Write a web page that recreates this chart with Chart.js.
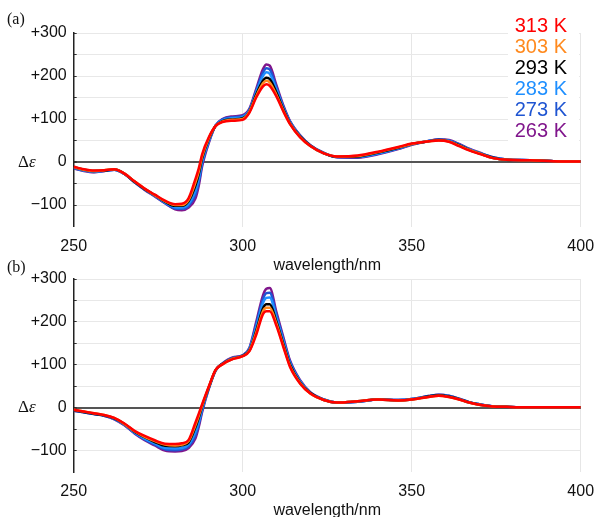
<!DOCTYPE html>
<html>
<head>
<meta charset="utf-8">
<script src="https://cdn.jsdelivr.net/npm/chart.js@4.4.1/dist/chart.umd.min.js"></script>
<style>
  body { margin: 0; width: 595px; height: 517px; overflow: hidden; background: #fff; position: relative; }
  canvas { position: absolute; left: 0; }
  .tag { position: absolute; font-family: "Liberation Serif", serif; font-size: 16px; color: #111; line-height: 18px; }
  .de { position: absolute; font-family: "Liberation Serif", serif; font-size: 17px; color: #111; line-height: 20px; }
  #legend { position: absolute; left: 508px; top: 14.5px; width: 59px; padding-right: 12px; background: #fff;
            text-align: right; font-family: "Liberation Sans", Arial, sans-serif; font-size: 20px; line-height: 21px; }
</style>
</head>
<body>
<canvas id="chartA" width="595" height="275" style="top:0"></canvas>
<canvas id="chartB" width="595" height="275" style="top:245px"></canvas>
<div class="tag" style="left:7px;top:10px">(a)</div>
<div class="tag" style="left:7px;top:258px">(b)</div>
<div class="de" style="left:18px;top:152px">Δ<i>ε</i></div>
<div class="de" style="left:18px;top:397px">Δ<i>ε</i></div>
<div id="legend"></div>
<script>
// wavelength grid (nm)
const wavelengths = [250,253,256,259,262,265,268,271,274,277,280,282,284,286,287,288,290,292,294,297,
  300,302,304,306,307,308,310,312,314,317,320,324,328,334,340,346,350,355,358,361,364,367,370,374,378,385,392,400];

const temps = ["313 K", "303 K", "293 K", "283 K", "273 K", "263 K"];
const colors = ["#ff0000", "#ff8a1e", "#000000", "#1e8fff", "#1f55d2", "#80168c"];

// panel (a)
const a313 = [-11,-17,-20,-19,-17,-27,-45,-62,-76,-90,-98,-97,-84,-40,-15,18,58,84,93,96,98,115,150,176,181,177,152,118,88,57,37,20,13,15,24,35,43,48,50,47,37,27,19,9,5,4,2,1];
const a303 = [-12,-18,-21,-19,-17,-27,-45,-62,-77,-91,-100,-100,-88,-48,-22,13,56,84,94,98,100,117,153,183,189,185,156,120,89,58,37,20,13,14,23,34,42,48,50,48,38,28,20,9,5,4,2,1];
const a293 = [-12,-18,-21,-20,-17,-27,-46,-63,-77,-92,-102,-102,-91,-55,-28,9,54,84,95,99,102,118,157,189,196,193,161,123,90,59,38,20,12,13,22,33,42,48,51,48,39,28,20,10,5,4,2,1];
const a283 = [-13,-19,-22,-20,-18,-28,-46,-64,-78,-94,-105,-106,-97,-67,-39,1,50,85,97,102,105,120,162,200,209,205,168,126,92,60,38,21,12,12,20,32,41,49,52,49,40,29,21,10,6,4,2,1];
const a273 = [-14,-20,-23,-21,-18,-28,-47,-64,-79,-95,-108,-109,-102,-76,-47,-4,48,85,99,104,107,122,166,208,218,215,173,129,94,61,39,21,11,11,19,31,41,49,52,50,41,30,21,11,6,4,2,1];
const a263 = [-15,-21,-24,-21,-18,-28,-47,-65,-80,-96,-110,-112,-106,-85,-55,-10,45,85,100,106,109,124,170,216,227,224,178,132,95,62,39,21,11,10,18,30,40,49,53,51,42,31,22,11,6,4,2,1];

// panel (b)
const b313 = [-5,-9,-13,-17,-24,-37,-54,-66,-76,-84,-85,-83,-75,-35,-14,8,50,88,101,113,120,132,170,218,225,225,190,142,95,56,33,18,12,15,19,17,19,25,28,25,19,12,7,3,2,1,1,1];
const b303 = [-5,-9,-13,-17,-24,-38,-55,-68,-78,-86,-88,-86,-78,-41,-19,5,49,88,101,114,120,133,175,225,233,233,195,145,97,57,33,18,12,15,19,17,19,25,28,25,19,12,7,3,2,1,1,1];
const b293 = [-6,-10,-14,-18,-25,-38,-56,-69,-80,-89,-90,-88,-81,-46,-23,3,48,88,102,114,121,134,179,231,241,241,200,149,100,58,34,18,12,15,19,17,19,26,29,26,20,12,7,3,2,1,1,1];
const b283 = [-6,-10,-14,-18,-26,-39,-58,-72,-83,-94,-95,-94,-86,-57,-33,-3,47,87,102,115,121,137,188,244,256,257,209,156,104,61,35,19,12,14,19,18,20,26,29,27,20,13,8,3,2,1,1,1];
const b273 = [-7,-11,-15,-19,-26,-40,-59,-74,-86,-97,-99,-97,-90,-65,-39,-6,46,87,103,116,122,138,194,253,267,268,216,160,107,62,35,19,12,14,19,18,20,27,30,27,21,13,8,3,2,1,1,1];
const b263 = [-7,-11,-15,-19,-27,-41,-60,-76,-88,-100,-102,-101,-94,-72,-45,-10,45,87,103,117,122,140,200,262,277,279,222,165,110,64,36,19,12,14,19,18,20,27,30,28,21,13,8,3,2,1,1,1];

const yTicks = [-100, 0, 100, 200, 300];

function tickText(v) {
  if (!yTicks.includes(v)) return "";
  if (v > 0) return "+" + v;
  if (v < 0) return "\u2212" + Math.abs(v);
  return "0";
}

function makeChart(id, series, topPad, axisH) {
  const datasets = series.map((vals, i) => ({
    label: temps[i],
    data: vals.map((v, j) => ({ x: wavelengths[j], y: v })),
    borderColor: colors[i],
    borderWidth: 2.5,
    pointRadius: 0,
    fill: false,
    cubicInterpolationMode: "monotone"
  }));

  new Chart(document.getElementById(id), {
    type: "line",
    data: { datasets },
    options: {
      responsive: false,
      animation: false,
      layout: { padding: { top: topPad, right: 14.3, bottom: 0, left: 0 } },
      plugins: { legend: { display: false }, tooltip: { enabled: false } },
      scales: {
        x: {
          type: "linear",
          min: 250, max: 400,
          afterFit: s => { s.height = axisH; s.paddingLeft = 0; s.paddingRight = 0; },
          ticks: { stepSize: 50, padding: 10, color: "#111", autoSkip: false,
                   font: { family: "Liberation Sans", size: 16 } },
          grid: { color: "#e6e6e6", drawTicks: false },
          border: { display: false },
          title: { display: true, text: "wavelength/nm", color: "#111", padding: 0,
                   font: { family: "Liberation Sans", size: 16 } }
        },
        y: {
          min: -150, max: 300,
          afterFit: s => { s.width = 73.7; s.paddingTop = 0; s.paddingBottom = 0; },
          ticks: { stepSize: 50, padding: 10, color: "#111", autoSkip: false, callback: tickText,
                   font: { family: "Liberation Sans", size: 16 } },
          grid: {
            drawTicks: true,
            tickLength: -3,
            tickColor: c => c.tick.value === -150 ? "rgba(0,0,0,0)" : "#333",
            color: c => c.tick.value === 0 ? "#555" : (c.tick.value === -150 ? "rgba(0,0,0,0)" : "#e8e8e8"),
            lineWidth: c => c.tick.value === 0 ? 2 : 1
          },
          border: { display: true, color: "#222", width: 1.5 }
        }
      }
    }
  });
}

makeChart("chartA", [a313, a303, a293, a283, a273, a263], 33, 48.5);
makeChart("chartB", [b313, b303, b293, b283, b273, b263], 34, 48);

document.getElementById("legend").innerHTML =
  temps.map((t, i) => '<div style="color:' + colors[i] + '">' + t + '</div>').join("");
</script>
</body>
</html>
